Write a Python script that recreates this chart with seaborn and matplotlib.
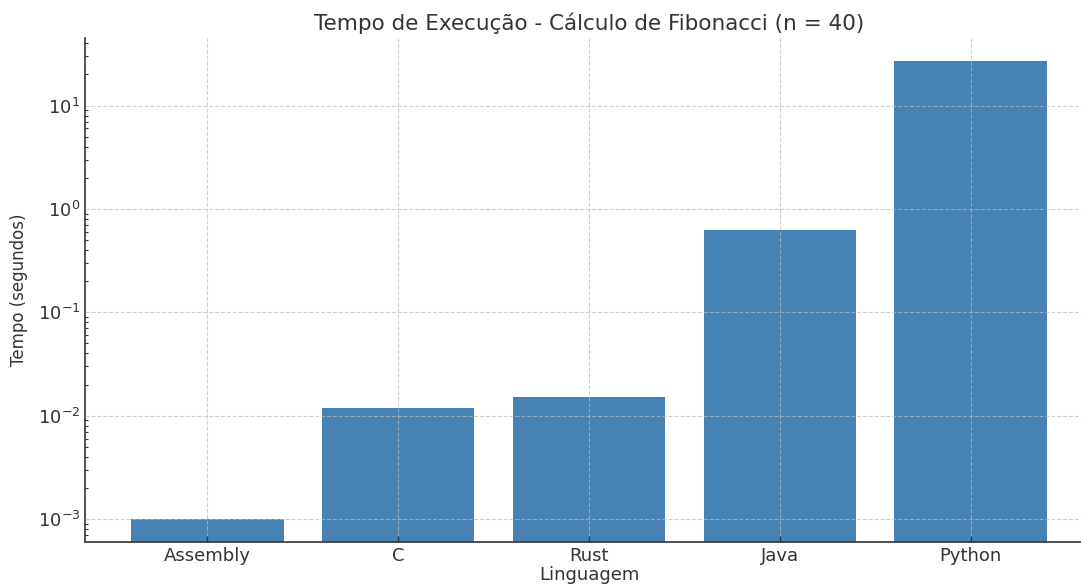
import numpy as np
import pandas as pd
import matplotlib
matplotlib.use("Agg")
import matplotlib.pyplot as plt
import seaborn as sns

# Execution time (seconds) of a recursive Fibonacci(40) per language
languages = ["Assembly", "C", "Rust", "Java", "Python"]
times = [0.001, 0.012, 0.015, 0.63, 27.0]

df = pd.DataFrame({"Linguagem": languages, "Tempo": times})

sns.set_theme(style="white")
plt.rcParams["font.family"] = ["DejaVu Sans"]
plt.rcParams.update({
    "xtick.direction": "in",
    "ytick.direction": "in",
    "text.color": "#333333",
    "axes.labelcolor": "#333333",
    "xtick.color": "#333333",
    "ytick.color": "#333333",
    "axes.edgecolor": "#333333",
})

fig = plt.figure(figsize=(10.81, 5.85), dpi=100)
ax = fig.add_axes([85 / 1081, 43 / 585, (1093 - 85) / 1081, (542 - 38) / 585])

sns.barplot(data=df, x="Linguagem", y="Tempo", color="#4682B4",
            saturation=1, width=0.8, linewidth=0, ax=ax, zorder=2)
ax.set_yscale("log")

# 5% margin in log space around the data range
lo, hi = np.log10(min(times)), np.log10(max(times))
pad = 0.05 * (hi - lo)
ax.set_ylim(10 ** (lo - pad), 10 ** (hi + pad))
ax.set_xlim(-0.64, len(languages) - 0.36)

ax.grid(True, which="major", linestyle="--", color="#bbbbbb", linewidth=0.8, alpha=0.7)
ax.set_axisbelow(False)

for side in ["top", "right"]:
    ax.spines[side].set_visible(False)
for side in ["left", "bottom"]:
    ax.spines[side].set_linewidth(1.2)

ax.tick_params(axis="both", which="major", labelsize=13, length=4, width=1)
ax.tick_params(axis="y", which="minor", length=2.5, width=0.8, left=True)
ax.tick_params(axis="x", which="both", bottom=True)

ax.set_xlabel("Linguagem", fontsize=13, labelpad=1)
ax.set_ylabel("Tempo (segundos)", fontsize=12, labelpad=7)
ax.set_title("Tempo de Execução - Cálculo de Fibonacci (n = 40)", fontsize=15.5, pad=6)

fig.savefig("out.png", dpi=100)
